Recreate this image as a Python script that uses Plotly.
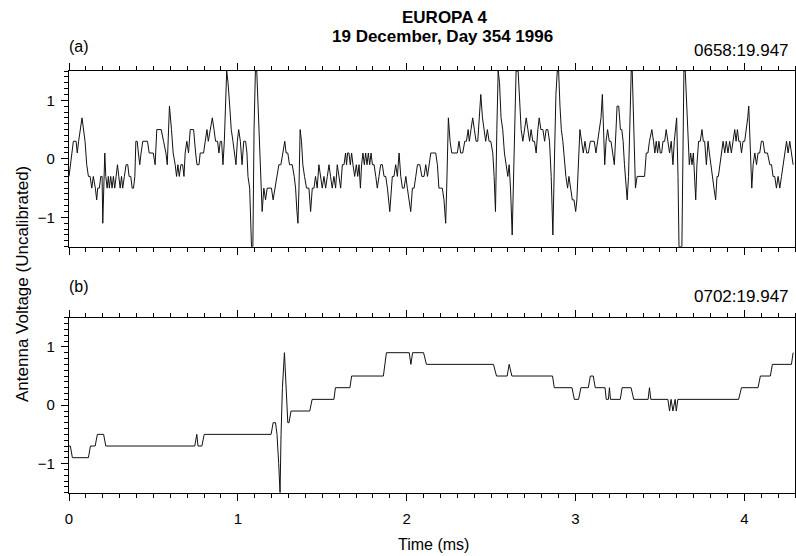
import plotly.graph_objects as go

# ---------------- data ----------------
# Panel (a): 0658:19.947 — time (ms) and antenna voltage (uncalibrated)
t_a = [0.000, 0.016, 0.026, 0.042, 0.049, 0.057, 0.077, 0.095, 0.105, 0.115, 0.125, 0.135, 0.144, 0.156,
       0.164, 0.170, 0.180, 0.188, 0.196, 0.200, 0.206, 0.212, 0.218, 0.226, 0.233, 0.239, 0.247, 0.255,
       0.263, 0.271, 0.279, 0.287, 0.295, 0.303, 0.311, 0.318, 0.328, 0.338, 0.348, 0.356, 0.366, 0.374,
       0.382, 0.390, 0.396, 0.404, 0.411, 0.419, 0.427, 0.437, 0.465, 0.475, 0.499, 0.510, 0.520, 0.546,
       0.560, 0.574, 0.582, 0.595, 0.607, 0.617, 0.629, 0.637, 0.645, 0.653, 0.663, 0.673, 0.681, 0.688,
       0.698, 0.708, 0.718, 0.738, 0.750, 0.758, 0.770, 0.777, 0.797, 0.807, 0.817, 0.825, 0.835, 0.849,
       0.859, 0.868, 0.880, 0.888, 0.896, 0.904, 0.912, 0.920, 0.934, 0.942, 0.952, 0.961, 0.971, 0.979,
       0.989, 0.997, 1.005, 1.015, 1.025, 1.035, 1.046, 1.054, 1.060, 1.070,
       1.075, 1.081, 1.089, 1.096, 1.104, 1.112, 1.120, 1.128, 1.136, 1.144, 1.154, 1.164, 1.174, 1.199,
       1.209, 1.219, 1.229, 1.243, 1.255, 1.267, 1.278, 1.286, 1.296, 1.306, 1.322, 1.334, 1.342, 1.350,
       1.356, 1.362, 1.369, 1.377, 1.385, 1.395, 1.407, 1.421, 1.431, 1.441, 1.451, 1.460, 1.470, 1.480,
       1.490, 1.500, 1.510, 1.520, 1.530, 1.540, 1.549, 1.559, 1.569, 1.579, 1.589, 1.599, 1.609, 1.619,
       1.629, 1.638, 1.644, 1.650, 1.658, 1.666, 1.674, 1.682, 1.692, 1.702, 1.710, 1.718, 1.726, 1.733,
       1.741, 1.749, 1.757, 1.765, 1.773, 1.781, 1.789, 1.797, 1.807, 1.817, 1.826, 1.836, 1.846, 1.856,
       1.866, 1.876, 1.886, 1.900, 1.908, 1.915, 1.925, 1.935, 1.945, 1.955, 1.965, 1.975, 1.985, 1.995,
       2.004, 2.014, 2.024, 2.034, 2.044, 2.054, 2.064, 2.078, 2.090, 2.103, 2.113, 2.123, 2.133, 2.143,
       2.153, 2.163,
       2.172, 2.182, 2.191, 2.201, 2.211, 2.221, 2.231, 2.237, 2.247, 2.257, 2.267, 2.300, 2.310, 2.320,
       2.332, 2.344, 2.354, 2.364, 2.371, 2.381, 2.391, 2.401, 2.411, 2.421, 2.429, 2.439, 2.449, 2.459,
       2.468, 2.478, 2.488, 2.498, 2.510, 2.518, 2.526, 2.534, 2.542, 2.550, 2.559, 2.569, 2.579, 2.589,
       2.599, 2.607, 2.615, 2.625, 2.633, 2.641, 2.648, 2.660, 2.668, 2.678, 2.688, 2.698, 2.708, 2.718,
       2.728, 2.737, 2.747, 2.757, 2.767, 2.777, 2.785, 2.795, 2.807, 2.817, 2.826, 2.836, 2.846, 2.856,
       2.866, 2.876, 2.884, 2.892, 2.900, 2.908, 2.916, 2.925, 2.935, 2.943, 2.953, 2.961, 2.971, 2.981,
       2.991, 3.001, 3.008, 3.016, 3.026, 3.036, 3.046, 3.056, 3.066, 3.076, 3.088, 3.111, 3.121, 3.131,
       3.141, 3.151, 3.159, 3.167, 3.173, 3.181, 3.190, 3.200, 3.210, 3.220, 3.230, 3.240, 3.246, 3.256,
       3.266,
       3.274, 3.282, 3.290, 3.300, 3.306, 3.314, 3.322, 3.330, 3.336, 3.344, 3.349, 3.355, 3.365, 3.409,
       3.419, 3.429, 3.438, 3.452, 3.462, 3.470, 3.478, 3.486, 3.494, 3.502, 3.510, 3.518, 3.528, 3.537,
       3.547, 3.557, 3.567, 3.577, 3.585, 3.593, 3.599, 3.607, 3.613, 3.630, 3.636, 3.642, 3.650, 3.658,
       3.666, 3.674, 3.682, 3.690, 3.698, 3.706, 3.712, 3.719, 3.729, 3.739, 3.749, 3.757, 3.765, 3.775,
       3.785, 3.793, 3.801, 3.810, 3.820, 3.830, 3.838, 3.846, 3.854, 3.864, 3.874, 3.884, 3.893, 3.903,
       3.913, 3.923, 3.933, 3.943, 3.951, 3.959, 3.967, 3.975, 3.983, 3.992, 4.002, 4.012, 4.020, 4.026,
       4.032, 4.038, 4.044, 4.052, 4.062, 4.072, 4.081, 4.091, 4.101, 4.111, 4.121, 4.137, 4.151, 4.161,
       4.170, 4.180, 4.190, 4.200, 4.210, 4.220, 4.230, 4.240, 4.250, 4.259, 4.269, 4.279, 4.289]
v_a = [-0.3, 0.1, 0.3, 0.3, 0.1, 0.3, 0.7, 0.3, -0.1, -0.3, -0.3, -0.5, -0.3, -0.5,
       -0.7, -0.5, -0.5, -0.3, -0.3, -1.1, -0.3, 0.1, -0.3, -0.5, -0.3, -0.5, -0.3, -0.5,
       -0.3, -0.5, -0.3, -0.1, -0.3, -0.5, -0.3, -0.5, -0.3, -0.1, -0.1, -0.3, -0.3, -0.5,
       -0.5, -0.3, 0.3, 0.3, 0.1, -0.1, 0.1, 0.3, 0.3, 0.1, 0.1, -0.1, 0.5, 0.5,
       0.3, 0.1, -0.1, 0.9, 0.5, 0.1, -0.1, -0.3, -0.1, -0.3, -0.1, -0.1, -0.3, 0.1,
       0.3, 0.1, 0.5, 0.5, 0.1, -0.1, -0.1, 0.1, 0.1, 0.3, 0.5, 0.3, 0.5, 0.7,
       0.5, 0.3, 0.3, 0.1, 0.3, 0.3, -0.1, 0.3, 1.5, 1.3, 0.9, 0.5, 0.3, 0.1,
       -0.1, 0.3, 0.5, 0.3, -0.1, 0.3, 0.3, 0.1, -0.3, -0.5,
       -0.9, -1.5, -1.5, 0.5, 1.5, 1.5, 0.9, 0.3, -0.3, -0.9, -0.5, -0.7, -0.5, -0.5,
       -0.7, -0.5, -0.3, -0.1, -0.1, 0.1, 0.3, 0.1, 0.1, -0.1, -0.1, -0.3, -0.5, -0.9,
       -1.1, -0.5, 0.5, 0.3, -0.1, -0.3, -0.5, -0.5, -0.9, -0.5, -0.5, -0.3, -0.5, -0.1,
       -0.3, -0.5, -0.3, -0.5, -0.3, -0.1, -0.3, -0.5, -0.3, -0.5, -0.1, -0.3, -0.5, -0.1,
       -0.1, 0.1, -0.1, 0.1, 0.1, -0.1, 0.1, -0.1, -0.3, -0.1, -0.3, -0.1, -0.5, -0.1,
       0.1, -0.1, 0.1, -0.1, 0.1, -0.1, 0.1, -0.1, -0.1, -0.3, -0.5, -0.3, -0.1, -0.1,
       -0.3, -0.3, -0.5, -0.9, -0.5, -0.3, -0.3, -0.1, -0.3, 0.1, -0.3, -0.5, -0.5, -0.3,
       -0.5, -0.7, -0.9, -0.5, -0.5, -0.3, -0.1, -0.1, -0.3, -0.3, -0.1, -0.3, -0.1, 0.1,
       0.1, 0.1,
       0.1, -0.1, -0.5, -0.5, -0.5, -0.7, -1.1, -0.5, 0.7, 0.3, 0.1, 0.1, 0.3, 0.1,
       0.1, 0.3, 0.3, 0.5, 0.3, 0.5, 0.7, 0.5, 0.3, 0.3, 0.7, 1.1, 0.7, 0.5,
       0.3, 0.5, 0.3, 0.3, 0.1, -0.3, -0.9, 0.5, 1.5, 1.3, 0.7, 0.5, 0.1, -0.1,
       -0.3, -0.1, -0.5, -1.3, -0.3, 1.1, 1.5, 1.5, 1.1, 0.5, 0.3, 0.5, 0.7, 0.5,
       0.3, 0.5, 0.3, 0.3, 0.1, 0.5, 0.7, 0.5, 0.5, 0.3, 0.5, 0.5, 0.3, -0.3,
       -1.3, 0.1, 1.1, 1.5, 1.5, 0.9, 0.5, 0.3, -0.1, -0.3, -0.5, -0.3, -0.5, -0.7,
       -0.7, -0.9, -0.7, -0.1, 0.5, 0.3, 0.1, 0.3, 0.1, 0.1, 0.3, 0.3, 0.1, 0.3,
       0.5, 0.7, 1.1, 0.5, -0.1, 0.3, 0.5, 0.3, 0.3, 0.1, -0.1, 0.5, 0.9, 0.9,
       0.5,
       0.5, 0.3, -0.1, -0.5, -0.7, -0.3, 0.7, 1.5, 1.5, 0.7, -0.1, -0.5, -0.3, -0.3,
       0.1, 0.1, 0.3, 0.5, 0.3, 0.1, 0.3, 0.1, 0.3, 0.1, 0.1, 0.3, 0.3, 0.5,
       0.3, 0.1, 0.3, -0.1, 0.3, 0.5, 0.7, -0.3, -1.5, -1.5, 0.3, 1.5, 1.5, 0.9,
       0.3, -0.1, 0.1, -0.1, 0.1, -0.3, -0.7, -0.1, 0.3, 0.3, 0.5, 0.3, 0.3, -0.1,
       0.3, 0.1, -0.1, -0.3, -0.5, -0.7, -0.3, -0.3, -0.1, 0.1, 0.3, 0.1, 0.3, 0.1,
       0.3, 0.1, 0.3, 0.5, 0.3, 0.5, 0.3, 0.3, 0.1, 0.3, 0.3, 0.5, 0.7, 0.9,
       0.3, -0.3, -0.5, -0.1, 0.1, -0.1, 0.1, 0.1, 0.3, 0.3, 0.1, 0.1, -0.1, -0.1,
       -0.3, -0.3, -0.5, -0.3, -0.5, -0.3, -0.1, 0.1, 0.3, 0.1, 0.3, 0.1, -0.1]

# Panel (b): 0702:19.947
t_b = [0.000, 0.008, 0.020, 0.115, 0.127, 0.155, 0.168, 0.205, 0.218, 0.745, 0.757, 0.764, 0.787, 0.801,
       1.197, 1.209, 1.223, 1.232, 1.242, 1.250, 1.256, 1.264, 1.276, 1.286, 1.296, 1.303, 1.315, 1.426,
       1.440, 1.569, 1.578, 1.664, 1.674, 1.862, 1.880, 2.015, 2.025, 2.035, 2.100, 2.117, 2.514, 2.532,
       2.595, 2.607, 2.623, 2.864, 2.874, 2.979, 2.993, 3.018, 3.032, 3.076, 3.088, 3.105, 3.117, 3.175,
       3.182, 3.195, 3.201, 3.207, 3.265, 3.276, 3.329, 3.345, 3.430, 3.438, 3.446, 3.547, 3.557, 3.566,
       3.577, 3.590, 3.597, 3.606, 3.966, 3.983, 4.081, 4.095, 4.154, 4.166, 4.279, 4.289]
v_b = [-0.7, -0.7, -0.9, -0.9, -0.7, -0.7, -0.5, -0.5, -0.7, -0.7, -0.5, -0.7, -0.7, -0.5,
       -0.5, -0.3, -0.3, -0.5, -1.0, -1.5, -0.5, 0.3, 0.9, 0.3, -0.3, -0.3, -0.1, -0.1,
       0.1, 0.1, 0.3, 0.3, 0.5, 0.5, 0.9, 0.9, 0.7, 0.9, 0.9, 0.7, 0.7, 0.5,
       0.5, 0.7, 0.5, 0.5, 0.3, 0.3, 0.1, 0.1, 0.3, 0.3, 0.5, 0.5, 0.3, 0.3,
       0.1, 0.1, 0.3, 0.1, 0.1, 0.3, 0.3, 0.1, 0.1, 0.3, 0.1, 0.1, -0.1, 0.1,
       -0.1, 0.1, -0.1, 0.1, 0.1, 0.3, 0.3, 0.5, 0.5, 0.7, 0.7, 0.9]

x_ticks = [0, 1, 2, 3, 4]
y_ticks = [-1, 0, 1]

title_line1 = "EUROPA 4"
title_line2 = "19 December, Day 354 1996"
panel_labels = ["(a)", "(b)"]
panel_times = ["0658:19.947", "0702:19.947"]
y_title = "Antenna Voltage (Uncalibrated)"
x_title = "Time (ms)"

# ---------------- figure ----------------
W, H = 796, 556
FONT = "Liberation Sans, Arial, Helvetica, sans-serif"

fig = go.Figure()
fig.add_trace(go.Scatter(x=t_a, y=v_a, mode="lines", line=dict(color="#111", width=1),
                         xaxis="x", yaxis="y", showlegend=False, cliponaxis=True))
fig.add_trace(go.Scatter(x=t_b, y=v_b, mode="lines", line=dict(color="#111", width=1),
                         xaxis="x2", yaxis="y2", showlegend=False, cliponaxis=True))

def px_x(p):
    return p / W

def px_y(p):
    return 1 - p / H

x_dom = [px_x(69), px_x(795)]
dom_a = [px_y(246.7), px_y(71)]
dom_b = [px_y(492.7), px_y(317.7)]

xaxis_common = dict(range=[0, 4.3], tickvals=x_ticks, ticks="outside", ticklen=7, tickwidth=1,
                    tickcolor="black", showline=True, linecolor="black", linewidth=1.2,
                    mirror="ticks", showgrid=False, zeroline=False,
                    minor=dict(dtick=0.1, tick0=0, ticks="outside", ticklen=4, tickwidth=1,
                               tickcolor="black", showgrid=False),
                    tickfont=dict(family=FONT, size=15, color="black"), automargin=False,
                    domain=x_dom)
yaxis_common = dict(range=[-1.5, 1.5], tickvals=y_ticks, ticks="outside", ticklen=7, tickwidth=1,
                    tickcolor="black", showline=True, linecolor="black", linewidth=1.2,
                    mirror=True, showgrid=False, zeroline=False,
                    minor=dict(dtick=0.1, tick0=0, ticks="outside", ticklen=4, tickwidth=1,
                               tickcolor="black", showgrid=False),
                    tickfont=dict(family=FONT, size=15, color="black"), automargin=False,
                    ticklabelstandoff=3)

fig.update_layout(
    width=W, height=H,
    margin=dict(l=0, r=0, t=0, b=0),
    paper_bgcolor="white", plot_bgcolor="white",
    xaxis=dict(**xaxis_common, anchor="y", showticklabels=False),
    yaxis=dict(**yaxis_common, domain=dom_a, anchor="x"),
    xaxis2=dict(**xaxis_common, anchor="y2", showticklabels=True, ticklabelstandoff=5),
    yaxis2=dict(**yaxis_common, domain=dom_b, anchor="x2"),
)

ann = []
ann.append(dict(text="<b>%s</b>" % title_line1, x=px_x(445), y=px_y(17), xanchor="center",
                yanchor="middle", font=dict(family=FONT, size=17, color="black")))
ann.append(dict(text="<b>%s</b>" % title_line2, x=px_x(442), y=px_y(36), xanchor="center",
                yanchor="middle", font=dict(family=FONT, size=17, color="black")))
ann.append(dict(text=panel_labels[0], x=px_x(67), y=px_y(46), xanchor="left", yanchor="middle",
                font=dict(family=FONT, size=16, color="black")))
ann.append(dict(text=panel_times[0], x=px_x(791), y=px_y(50), xanchor="right", yanchor="middle",
                font=dict(family=FONT, size=17, color="black")))
ann.append(dict(text=panel_labels[1], x=px_x(67), y=px_y(286), xanchor="left", yanchor="middle",
                font=dict(family=FONT, size=16, color="black")))
ann.append(dict(text=panel_times[1], x=px_x(791), y=px_y(296), xanchor="right", yanchor="middle",
                font=dict(family=FONT, size=17, color="black")))
ann.append(dict(text=y_title, x=px_x(22), y=px_y(284), xanchor="center", yanchor="middle",
                textangle=-90, font=dict(family=FONT, size=17, color="black")))
ann.append(dict(text=x_title, x=px_x(433), y=px_y(544), xanchor="center", yanchor="middle",
                font=dict(family=FONT, size=16, color="black")))
for a in ann:
    a.update(xref="paper", yref="paper", showarrow=False)
fig.update_layout(annotations=ann)

fig.write_html("out.html")
